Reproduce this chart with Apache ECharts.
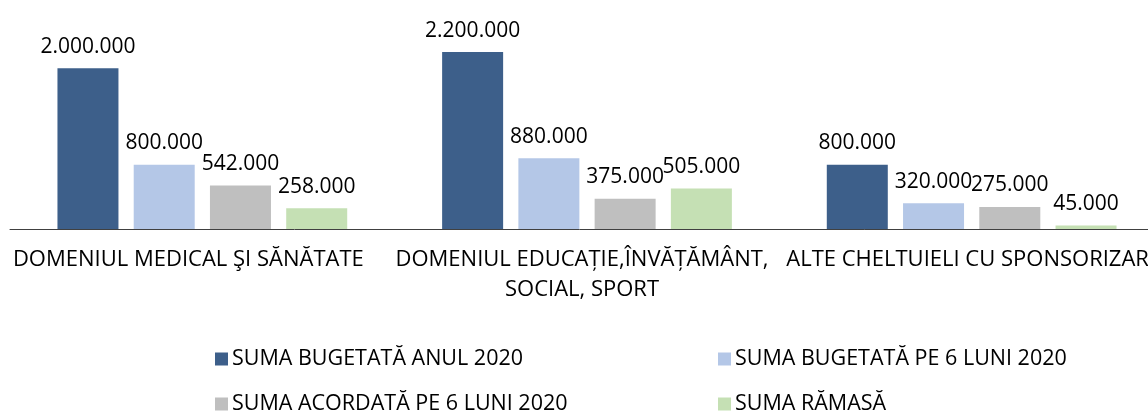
<!DOCTYPE html>
<html>
<head>
<meta charset="utf-8">
<script src="https://cdn.jsdelivr.net/npm/echarts@6/dist/echarts.min.js"></script>
<style>
  html, body { margin: 0; padding: 0; background: #fff; }
  #chart { width: 1148px; height: 412px; }
</style>
</head>
<body>
<div id="chart"></div>
<script>
// Budget categories and amounts (lei)
const categories = [
  'DOMENIUL MEDICAL ŞI SĂNĂTATE',
  'DOMENIUL EDUCAȚIE,ÎNVĂȚĂMÂNT,\nSOCIAL, SPORT',
  'ALTE CHELTUIELI CU SPONSORIZAREA'
];
const seriesNames = [
  'SUMA BUGETATĂ ANUL 2020',
  'SUMA BUGETATĂ PE 6 LUNI 2020',
  'SUMA ACORDATĂ PE 6 LUNI 2020',
  'SUMA RĂMASĂ'
];
const bugetatAnual = [2000000, 2200000, 800000];
const bugetat6Luni = [800000, 880000, 320000];
const acordat6Luni = [542000, 375000, 275000];
const ramasa = [258000, 505000, 45000];

const colors = ['#3D5F8A', '#B4C7E7', '#BFBFBF', '#C5E0B4'];
const FONT = '"Open Sans", sans-serif';

// thousands separated by dots
const fmt = v => String(v).replace(/\B(?=(\d{3})+(?!\d))/g, '.');

const values = [bugetatAnual, bugetat6Luni, acordat6Luni, ramasa];

const chart = echarts.init(document.getElementById('chart'), null, { renderer: 'canvas' });

const legendPos = [
  { left: 215, top: 348 },
  { left: 718, top: 348 },
  { left: 215, top: 393 },
  { left: 718, top: 393 }
];

// per-category horizontal nudge of the axis label text
const catStyle = ['c0', 'c1', 'c2'];
const catText = { fontFamily: FONT, fontSize: 22, color: '#000', lineHeight: 30 };

chart.setOption({
  animation: false,
  color: colors,
  grid: { left: 10, right: -16, top: 28, bottom: 183, containLabel: false, outerBoundsMode: 'none' },
  legend: seriesNames.map((name, i) => ({
    data: [name],
    left: legendPos[i].left,
    top: legendPos[i].top,
    padding: 0,
    itemWidth: 13,
    itemHeight: 13,
    itemGap: 0,
    icon: 'rect',
    selectedMode: false,
    textStyle: { fontFamily: FONT, fontSize: 21.5, color: '#000', lineHeight: 20, padding: [0, 0, 0, -1] }
  })),
  xAxis: {
    type: 'category',
    data: categories,
    axisLine: { lineStyle: { color: '#404040', width: 1 } },
    axisTick: { show: false },
    axisLabel: {
      interval: 0,
      fontFamily: FONT,
      fontSize: 22,
      color: '#000',
      lineHeight: 30,
      margin: 16,
      hideOverlap: false,
      formatter: (val, idx) => val.split('\n').map(l => '{' + catStyle[idx] + '|' + l + '}').join('\n'),
      rich: {
        c0: Object.assign({ padding: [0, 28, 0, 0] }, catText),
        c1: Object.assign({ padding: [0, 10, 0, 0] }, catText),
        c2: Object.assign({ padding: [0, 0, 0, 18] }, catText)
      }
    }
  },
  yAxis: {
    type: 'value',
    min: 0,
    max: 2500000,
    show: false,
    splitLine: { show: false }
  },
  series: values.map((arr, i) => ({
    name: seriesNames[i],
    type: 'bar',
    data: arr,
    barWidth: 61,
    barGap: '25%',
    itemStyle: { color: colors[i] },
    label: {
      show: true,
      position: 'top',
      distance: 11,
      formatter: p => fmt(p.value),
      fontFamily: FONT,
      fontSize: 21,
      color: '#000'
    }
  }))
});
</script>
</body>
</html>
